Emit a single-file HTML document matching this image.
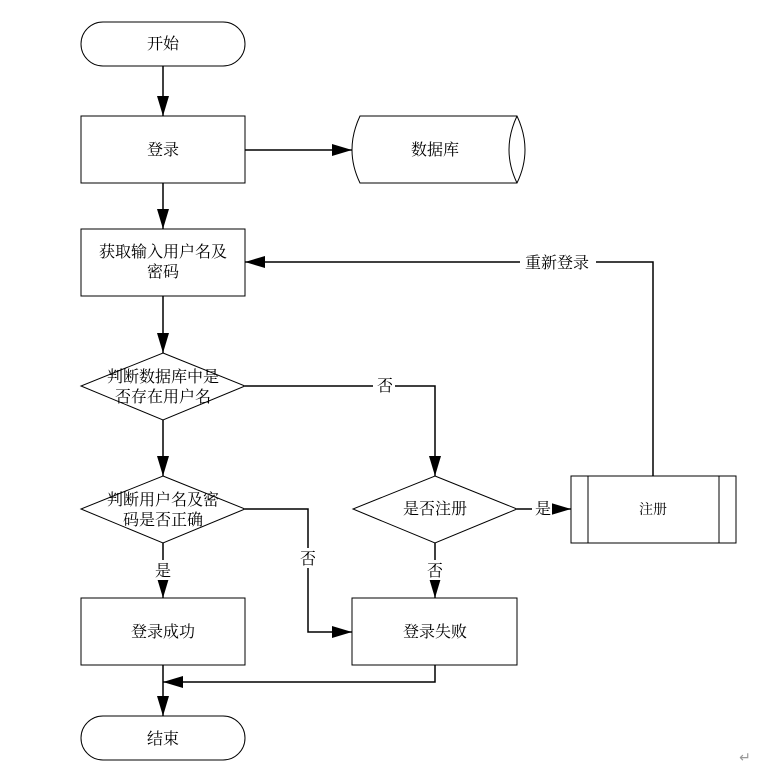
<!DOCTYPE html>
<html><head><meta charset="utf-8"><style>
body{margin:0;background:#fff;}
svg text{font-family:"Liberation Serif","Noto Serif CJK SC","Noto Sans CJK SC",serif;font-size:16px;fill:#000;}
</style></head><body>
<svg width="779" height="768" viewBox="0 0 779 768" xmlns="http://www.w3.org/2000/svg">
<defs><marker id="a" markerWidth="12" markerHeight="10" refX="12" refY="5" orient="auto" markerUnits="userSpaceOnUse"><path d="M0,0 L12,5 L0,10 Z" fill="#000"/></marker>
<marker id="b" markerWidth="20" markerHeight="12" refX="20" refY="6" orient="auto" markerUnits="userSpaceOnUse"><path d="M0,0 L20,6 L0,12 Z" fill="#000"/></marker></defs>
<g fill="none" stroke="#000" stroke-width="1">
<rect x="81" y="22" width="164" height="44" rx="22"/>
<rect x="81" y="116" width="164" height="67"/>
<path d="M360,116 L517,116 Q533,150 517,183 L360,183 Q344,150 360,116 Z"/>
<path d="M517,116 Q501,150 517,183"/>
<rect x="81" y="229" width="164" height="67"/>
<path d="M163,353 L245,386 L163,420 L81,386 Z"/>
<path d="M163,476 L245,509 L163,543 L81,509 Z"/>
<path d="M435,476 L517,509 L435,543 L353,509 Z"/>
<rect x="571" y="476" width="165" height="67"/>
<line x1="588" y1="476" x2="588" y2="543"/><line x1="719" y1="476" x2="719" y2="543"/>
<rect x="81" y="598" width="164" height="67"/>
<rect x="352" y="598" width="165" height="67"/>
<rect x="81" y="716" width="164" height="44" rx="22"/>
</g>
<g fill="none" stroke="#000" stroke-width="1.5">
<path d="M163,66 V116" marker-end="url(#b)"/>
<path d="M245,150 H352" marker-end="url(#b)"/>
<path d="M163,183 V229" marker-end="url(#b)"/>
<path d="M163,296 V353" marker-end="url(#b)"/>
<path d="M163,420 V476" marker-end="url(#b)"/>
<path d="M163,543 V598" marker-end="url(#b)"/>
<path d="M245,386 H435 V476" marker-end="url(#b)"/>
<path d="M245,509 H308 V632 H352" marker-end="url(#b)"/>
<path d="M517,509 H571" marker-end="url(#b)"/>
<path d="M435,543 V598" marker-end="url(#b)"/>
<path d="M653,476 V262 H245" marker-end="url(#b)"/>
<path d="M163,665 V716" marker-end="url(#b)"/>
<path d="M435,665 V682 H163" marker-end="url(#b)"/>
</g>
<g fill="#fff">
<rect x="373" y="376" width="22" height="20"/><rect x="297" y="548" width="22" height="20"/>
<rect x="152" y="560" width="22" height="20"/><rect x="424" y="560" width="22" height="20"/>
<rect x="532" y="499" width="20" height="20"/><rect x="520" y="252" width="76" height="20"/>
</g>
<g text-anchor="middle">
<text x="163" y="49">开始</text>
<text x="163" y="155">登录</text>
<text x="435" y="155">数据库</text>
<text x="163" y="257">获取输入用户名及</text><text x="163" y="277">密码</text>
<text x="163" y="382">判断数据库中是</text><text x="163" y="402">否存在用户名</text>
<text x="163" y="505">判断用户名及密</text><text x="163" y="525">码是否正确</text>
<text x="435" y="514">是否注册</text>
<text x="653" y="514" style="font-size:14px">注册</text>
<text x="163" y="637">登录成功</text>
<text x="435" y="637">登录失败</text>
<text x="163" y="744">结束</text>
<text x="385" y="391">否</text><text x="308" y="564">否</text>
<text x="163" y="576">是</text><text x="435" y="576">否</text>
<text x="543" y="514">是</text><text x="557" y="268">重新登录</text>
<text x="745" y="762" style="fill:#999;font-size:14px">↵</text>
</g>
</svg>
</body></html>
